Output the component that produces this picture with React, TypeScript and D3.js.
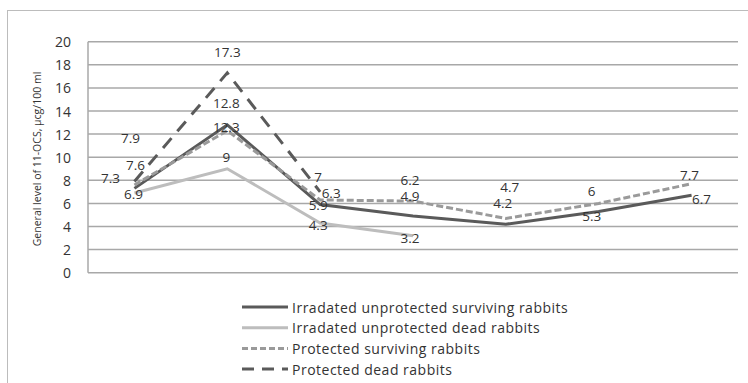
import React from "react";
import * as d3 from "d3";

const categories = ["1", "2", "3", "4", "5", "6", "7"];
const irrSurviving = [7.3, 12.8, 5.9, 4.9, 4.2, 5.3, 6.7];
const irrDead = [6.9, 9, 4.3, 3.2];
const protSurviving = [7.6, 12.3, 6.3, 6.2, 4.7, 6, 7.7];
const protDead = [7.9, 17.3, 7];
const yTicks = [0, 2, 4, 6, 8, 10, 12, 14, 16, 18, 20];
const seriesNames = [
  "Irradated unprotected surviving rabbits",
  "Irradated unprotected dead rabbits",
  "Protected surviving rabbits",
  "Protected dead rabbits",
];
const yTitle = "General level of 11-OCS, \u03bccg/100 ml";

// label offsets (dx, dy) relative to each point
const labelOffsets: number[][][] = [
  [[-24, -10], [-1, -22], [-2, 0], [-3, -20], [-3, -21], [-7, 5], [10, 4]],
  [[-1, 1], [-1, -12], [-2, 2], [-3, 2]],
  [[1, -20], [-1, -4], [11, -7], [-3, -21], [4, -31], [-7, -12], [-2, -9]],
  [[-4, -43], [0, -21], [-2, -15]],
];

const styles = [
  { color: "#5a5a5a", dash: "none" },
  { color: "#bdbdbd", dash: "none" },
  { color: "#9a9a9a", dash: "7,3" },
  { color: "#5a5a5a", dash: "13,9" },
];

export default function App() {
  const W = 748, H = 383;
  const left = 88, right = 738, top = 41.7, bottom = 272.7;
  const x = d3.scaleBand().domain(categories).range([left, right]);
  const y = d3.scaleLinear().domain([0, 20]).range([bottom, top]);
  const all = [irrSurviving, irrDead, protSurviving, protDead];
  const line = d3
    .line<number>()
    .x((_, i) => (x(categories[i]) as number) + x.bandwidth() / 2)
    .y((d) => y(d));
  const font = "'Open Sans', 'Liberation Sans', sans-serif";
  return (
    <svg
      width={W}
      height={H}
      style={{ position: "absolute", left: 0, top: 0, background: "#fff" }}
      fontFamily={font}
    >
      <rect x={7.5} y={10.5} width={760} height={400} fill="#fff" stroke="#bcbcbc" strokeWidth={1} />
      {yTicks.map((t) => (
        <g key={t}>
          <line x1={left} x2={right} y1={y(t)} y2={y(t)} stroke="#a8a8a8" strokeWidth={1.5} />
          <text x={71} y={y(t)} textAnchor="end" dominantBaseline="central" fontSize={14} fill="#333">
            {t}
          </text>
        </g>
      ))}
      <line x1={left} x2={left} y1={top} y2={bottom} stroke="#a8a8a8" strokeWidth={1.5} />
      <text
        transform={`translate(37,159) rotate(-90)`}
        textAnchor="middle"
        dominantBaseline="central"
        fontSize={10.5}
        fill="#333"
      >
        {yTitle}
      </text>
      {all.map((s, si) => (
        <path
          key={si}
          d={line(s) || ""}
          fill="none"
          stroke={styles[si].color}
          strokeWidth={3}
          strokeDasharray={styles[si].dash}
        />
      ))}
      {all.map((s, si) =>
        s.map((v, i) => (
          <text
            key={`${si}-${i}`}
            x={(x(categories[i]) as number) + x.bandwidth() / 2 + labelOffsets[si][i][0]}
            y={y(v) + labelOffsets[si][i][1]}
            textAnchor="middle"
            dominantBaseline="central"
            fontSize={13.5}
            fill="#333"
          >
            {v}
          </text>
        ))
      )}
      {seriesNames.map((n, i) => (
        <g key={n} transform={`translate(242,${307 + i * 20.7})`}>
          <line
            x1={0}
            x2={46}
            y1={0}
            y2={0}
            stroke={styles[i].color}
            strokeWidth={3}
            strokeDasharray={i === 3 ? "12,8" : i === 2 ? "6,3" : "none"}
          />
          <text x={50} y={0} dominantBaseline="central" fontSize={14} letterSpacing={0.5} fill="#333">
            {n}
          </text>
        </g>
      ))}
    </svg>
  );
}
